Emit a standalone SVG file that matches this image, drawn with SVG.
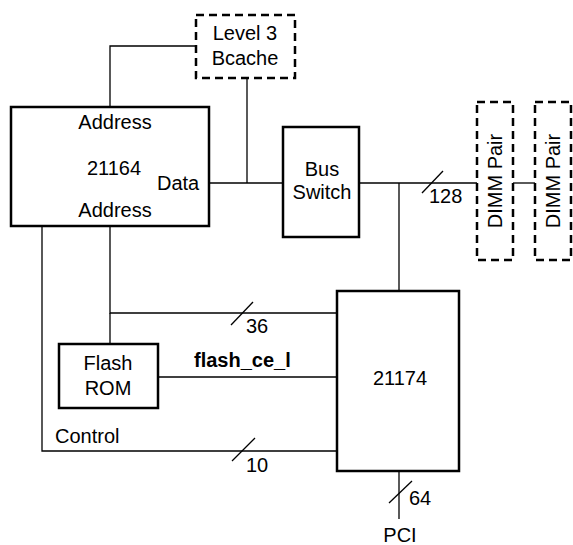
<svg xmlns="http://www.w3.org/2000/svg" width="573" height="545" viewBox="0 0 573 545">
<style>
.box{fill:#fff;stroke:#000;stroke-width:2.5}
.dash{fill:#fff;stroke:#000;stroke-width:2.5;stroke-dasharray:8,5}
.w{fill:none;stroke:#000;stroke-width:1.3}
text{font-family:"Liberation Sans",Arial,sans-serif;font-size:20px;fill:#000}
.c{text-anchor:middle}
.b{font-weight:bold}
</style>
<rect width="573" height="545" fill="#fff"/>
<g id="connectors">
<polyline class="w" points="110,107 110,46 196,46"/>
<line class="w" x1="209" y1="183" x2="283" y2="183"/>
<line class="w" x1="247" y1="78" x2="247" y2="183"/>
<line class="w" x1="359" y1="183" x2="477" y2="183"/>
<line class="w" x1="399" y1="183" x2="399" y2="291"/>
<line class="w" x1="422" y1="193" x2="443" y2="171"/>
<text x="429" y="203">128</text>
<line class="w" x1="513" y1="183" x2="535" y2="183"/>
<polyline class="w" points="110,226 110,313 337,313"/>
<line class="w" x1="110" y1="313" x2="110" y2="344"/>
<line class="w" x1="231" y1="325" x2="253" y2="302"/>
<text x="246" y="333">36</text>
<line class="w" x1="158" y1="377" x2="337" y2="377"/>
<text x="194" y="367" class="b">flash_ce_l</text>
<polyline class="w" points="42,226 42,451 337,451"/>
<text x="55" y="443">Control</text>
<line class="w" x1="232" y1="461" x2="255" y2="438"/>
<text x="246" y="472">10</text>
<line class="w" x1="399" y1="471" x2="399" y2="519"/>
<line class="w" x1="389" y1="503" x2="412" y2="481"/>
<text x="409" y="505">64</text>
<text x="400" y="542" class="c">PCI</text>
</g>
<g id="bcache">
<rect class="dash" x="196" y="15" width="99" height="63"/>
<text x="245" y="40" class="c">Level 3</text>
<text x="245" y="65" class="c">Bcache</text>
</g>
<g id="cpu21164">
<rect class="box" x="11" y="107" width="198" height="119"/>
<text x="115" y="129" class="c">Address</text>
<text x="114" y="175" class="c">21164</text>
<text x="157" y="190">Data</text>
<text x="115" y="217" class="c">Address</text>
</g>
<g id="busswitch">
<rect class="box" x="283" y="127" width="76" height="110"/>
<text x="322" y="176" class="c">Bus</text>
<text x="322" y="199" class="c">Switch</text>
</g>
<g id="dimm1">
<rect class="dash" x="477" y="102" width="36" height="158"/>
<text transform="translate(502,181) rotate(-90)" class="c">DIMM Pair</text>
</g>
<g id="dimm2">
<rect class="dash" x="535" y="102" width="36" height="158"/>
<text transform="translate(560,181) rotate(-90)" class="c">DIMM Pair</text>
</g>
<g id="flashrom">
<rect class="box" x="59" y="344" width="99" height="64"/>
<text x="108" y="370" class="c">Flash</text>
<text x="108" y="395" class="c">ROM</text>
</g>
<g id="chip21174">
<rect class="box" x="337" y="291" width="122" height="180"/>
<text x="400" y="385" class="c">21174</text>
</g>
</svg>
